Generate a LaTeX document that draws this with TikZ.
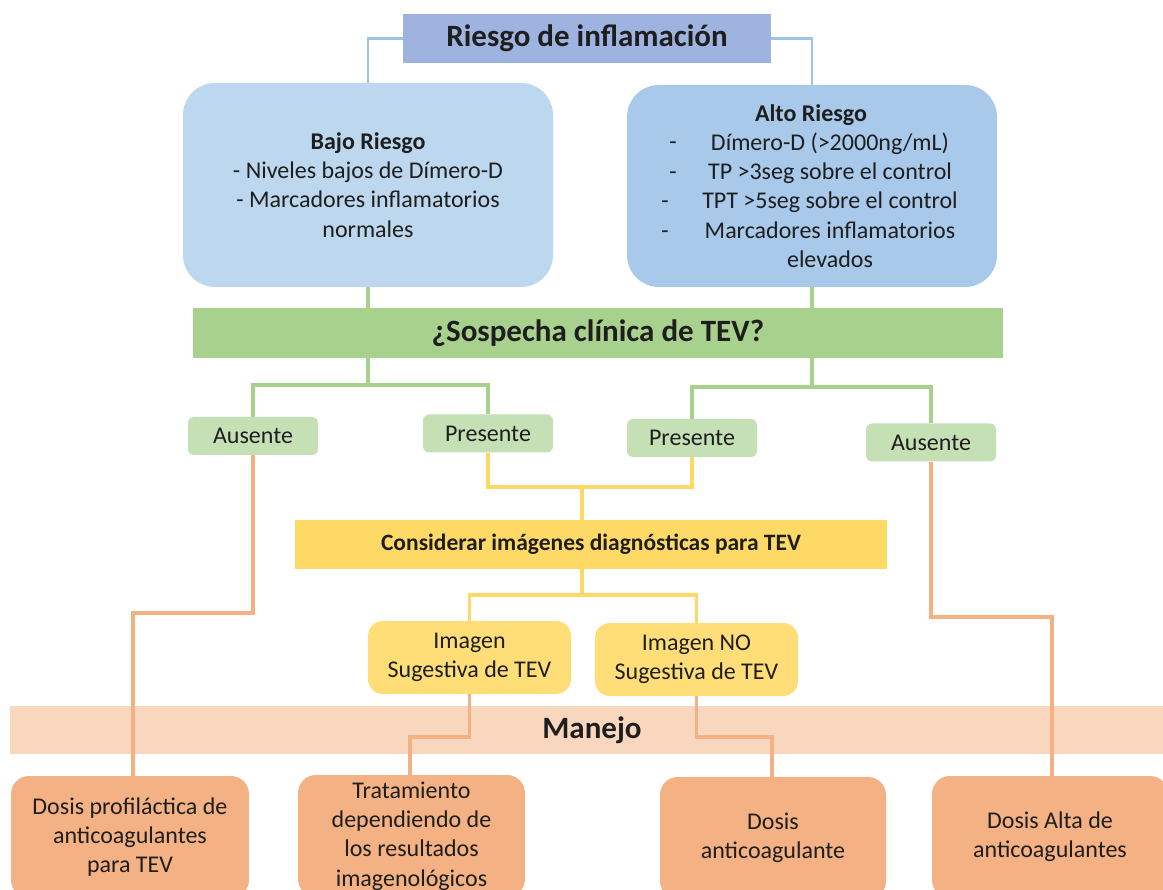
\documentclass[tikz,border=0pt]{standalone}
\usepackage{fontspec}
\setmainfont{Carlito}
\definecolor{ink}{HTML}{1E1E1E}
\definecolor{titleblue}{HTML}{9FB3E1}
\definecolor{bajoblue}{HTML}{BDD7EE}
\definecolor{altoblue}{HTML}{A8C9EA}
\definecolor{lineblue}{HTML}{9DC3E6}
\definecolor{bandgreen}{HTML}{A9D18E}
\definecolor{boxgreen}{HTML}{C5E0B4}
\definecolor{bandyellow}{HTML}{FFD966}
\definecolor{boxyellow}{HTML}{FFDE78}
\definecolor{bandpeach}{HTML}{F9D6BE}
\definecolor{boxorange}{HTML}{F4B183}
\begin{document}
\begin{tikzpicture}[x=1pt,y=-1pt,
  txt/.style={text=ink, font=\fontsize{24}{29.3}\selectfont, align=center, inner sep=0pt},
  bigtxt/.style={text=ink, font=\bfseries\fontsize{31}{36}\selectfont, align=center, inner sep=0pt},
  titlebox/.style={bigtxt, fill=titleblue},
  bajobox/.style={txt, fill=bajoblue, rounded corners=32pt},
  altobox/.style={txt, fill=altoblue, rounded corners=32pt},
  gband/.style={bigtxt, fill=bandgreen},
  gbox/.style={txt, fill=boxgreen, rounded corners=6pt, minimum width=130pt, minimum height=38pt},
  yband/.style={txt, font=\bfseries\fontsize{23.5}{28}\selectfont, fill=bandyellow},
  ybox/.style={txt, fill=boxyellow, rounded corners=15pt, minimum width=203pt, minimum height=73pt},
  pband/.style={bigtxt, fill=bandpeach},
  obox/.style={txt, fill=boxorange, rounded corners=18pt, minimum height=122pt},
  conn/.style={line width=3.2pt, line join=miter},
  blueline/.style={conn, draw=lineblue, line width=2.8pt},
  greenline/.style={conn, draw=bandgreen},
  yelline/.style={conn, draw=bandyellow},
  orline/.style={conn, draw=boxorange}]
\useasboundingbox (0,0) rectangle (1163,890);
\clip (0,0) rectangle (1163,890);
\fill[white] (0,0) rectangle (1163,890);
% bands
\node[gband, minimum width=810pt, minimum height=50pt] (sosp) at (598,333) {¿Sospecha clínica de TEV?};
\node[pband, minimum width=1164pt, minimum height=48pt] (manejo) at (592,730) {Manejo};
% top
\node[titlebox, minimum width=368pt, minimum height=49pt] (title) at (587,38.5) {Riesgo de inflamación};
\node[bajobox, minimum width=370pt, minimum height=204pt] (bajo) at (368,185)
  {\textbf{Bajo Riesgo}\\- Niveles bajos de Dímero-D\\- Marcadores inflamatorios\\normales};
\node[altobox, minimum width=370pt, minimum height=202pt] (alto) at (812,186) {};
\node[txt] (altotxt) at (830,186)
  {\textbf{Alto Riesgo}\hspace*{38pt}\\Dímero-D (>2000ng/mL)\\TP >3seg sobre el control\\TPT >5seg sobre el control\\Marcadores inflamatorios\\elevados};
\node[txt] (da1) at (673,146) {-};
\node[txt] (da2) at (673,176) {-};
\node[txt] (da3) at (665,205) {-};
\node[txt] (da4) at (665,235) {-};
% green boxes
\node[gbox] (aus1) at (253,436) {Ausente};
\node[gbox] (pre1) at (488,433.5) {Presente};
\node[gbox] (pre2) at (692,438) {Presente};
\node[gbox] (aus2) at (931,442.5) {Ausente};
% yellow
\node[yband, minimum width=592pt, minimum height=49pt] (cons) at (591,544.5) {Considerar imágenes diagnósticas para TEV};
\node[ybox] (img1) at (469.5,657.5) {Imagen\\Sugestiva de TEV};
\node[ybox] (img2) at (696.5,659.5) {Imagen NO\\Sugestiva de TEV};
% bottom
\node[obox, minimum width=238pt] (dp) at (130,837) {Dosis profiláctica de\\anticoagulantes\\para TEV};
\node[obox, minimum width=227pt] (trat) at (411.5,836) {Tratamiento\\dependiendo de\\los resultados\\imagenológicos};
\node[obox, minimum width=226pt] (anti) at (773,838) {Dosis\\anticoagulante};
\node[obox, minimum width=236pt] (alta) at (1050,837) {Dosis Alta de\\anticoagulantes};
% connectors
\draw[blueline] (title.west) -| (bajo.north);
\draw[blueline] (title.east) -| (alto.north);
\coordinate (gL) at (368,385);
\coordinate (gR) at (812,387);
\draw[greenline] (bajo.south) -- (gL);
\draw[greenline] (aus1.north) |- (gL) -| (pre1.north);
\draw[greenline] (alto.south) -- (gR);
\draw[greenline] (pre2.north) |- (gR) -| (aus2.north);
\coordinate (yA) at (582,487);
\draw[yelline] (pre1.south) |- (yA) -| (pre2.south);
\draw[yelline] (yA) -- (yA |- cons.north);
\coordinate (yB) at (582,595);
\draw[yelline] (yB |- cons.south) -- (yB);
\draw[yelline] (img1.north) |- (yB) -| (img2.north);
\coordinate (o1) at (133,613);
\draw[orline] (aus1.south) |- (o1) -- (o1 |- dp.north);
\coordinate (o2) at (410,737);
\draw[orline] (img1.south) |- (o2) -- (o2 |- trat.north);
\coordinate (o3) at (772,737);
\draw[orline] (img2.south) |- (o3) -- (o3 |- anti.north);
\coordinate (o4) at (1052,617);
\draw[orline] (aus2.south) |- (o4) -- (o4 |- alta.north);
\end{tikzpicture}
\end{document}
